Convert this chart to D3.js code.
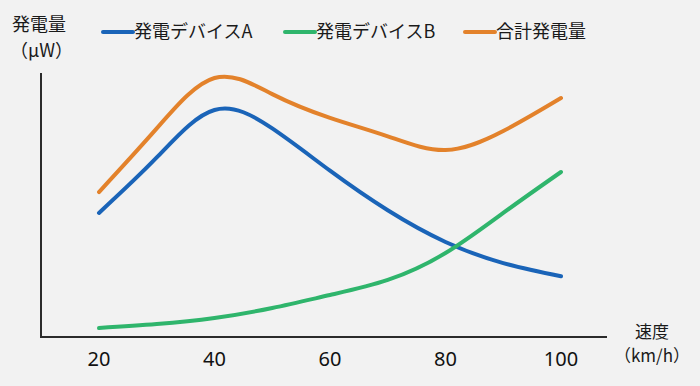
<!DOCTYPE html>
<html>
<head>
<meta charset="utf-8">
<script src="https://cdn.jsdelivr.net/npm/d3@7"></script>
<style>
  body { margin: 0; background: #f2f2f2; }
  svg { display: block; font-family: "Noto Sans CJK JP", "Noto Sans", sans-serif; }
</style>
</head>
<body>
<svg id="chart"></svg>
<script>
const width = 700;
const height = 386;

// speeds (km/h) read along the x axis
const speeds = [20, 30, 40, 50, 60, 70, 80, 90, 100];
const tickLabels = [20, 40, 60, 80, 100];

// power values (no units on the y axis)
const deviceA = [47, 68, 86, 79, 63, 48, 36, 28, 23];
const deviceB = [3.4, 4.9, 7.2, 11, 15.9, 21.6, 31.8, 47, 62.5];
const total = [54.9, 79, 98.1, 92, 83, 76, 70.8, 78, 90.5];

const seriesNames = ["発電デバイスA", "発電デバイスB", "合計発電量"];
const seriesColors = ["#1a64b8", "#2fb56c", "#e3822b"];

const svg = d3.select("#chart")
    .attr("width", width)
    .attr("height", height);

svg.append("rect")
    .attr("width", width)
    .attr("height", height)
    .attr("fill", "#f2f2f2");

const x = d3.scaleLinear().domain([20, 100]).range([99, 561]);
const y = d3.scaleLinear().domain([0, 100]).range([337, 73]);

// axes, drawn as plain lines
svg.append("line")
    .attr("x1", 41).attr("x2", 41)
    .attr("y1", y(100)).attr("y2", y(0))
    .attr("stroke", "#2b2b2b").attr("stroke-width", 2);
svg.append("line")
    .attr("x1", 40).attr("x2", 607)
    .attr("y1", y(0)).attr("y2", y(0))
    .attr("stroke", "#2b2b2b").attr("stroke-width", 2);

// tick labels
svg.selectAll(".tick")
    .data(tickLabels)
    .enter()
    .append("text")
        .attr("class", "tick")
        .attr("x", function(d){ return x(d); })
        .attr("y", 366)
        .attr("text-anchor", "middle")
        .attr("font-family", "'Noto Sans', sans-serif")
        .attr("font-size", 20)
        .attr("fill", "#111")
        .text(function(d){ return d; });

// lines
const line = d3.line()
    .x(function(d){ return x(d[0]); })
    .y(function(d){ return y(d[1]); })
    .curve(d3.curveNatural);

const series = [deviceA, deviceB, total];
series.forEach(function(vals, i){
    svg.append("path")
        .datum(speeds.map(function(s, j){ return [s, vals[j]]; }))
        .attr("d", line)
        .attr("fill", "none")
        .attr("stroke", seriesColors[i])
        .attr("stroke-width", 4)
        .attr("stroke-linecap", "round")
        .attr("stroke-linejoin", "round");
});

// y axis title
svg.append("text")
    .attr("x", 12).attr("y", 31)
    .attr("font-size", 18).attr("fill", "#1a1a1a")
    .text("発電量");
svg.append("text")
    .attr("x", 10).attr("y", 57)
    .attr("font-size", 18).attr("fill", "#1a1a1a")
    .text("（μW）");

// x axis title
svg.append("text")
    .attr("x", 652).attr("y", 338)
    .attr("text-anchor", "middle")
    .attr("font-size", 17).attr("fill", "#1a1a1a")
    .text("速度");
svg.append("text")
    .attr("x", 652).attr("y", 362)
    .attr("text-anchor", "middle")
    .attr("font-size", 17).attr("fill", "#1a1a1a")
    .text("（km/h）");

// legend
const legendX = [103, 285, 465];
seriesNames.forEach(function(name, i){
    svg.append("line")
        .attr("x1", legendX[i]).attr("x2", legendX[i] + 30)
        .attr("y1", 32).attr("y2", 32)
        .attr("stroke", seriesColors[i])
        .attr("stroke-width", 4)
        .attr("stroke-linecap", "round");
    svg.append("text")
        .attr("x", legendX[i] + 31).attr("y", 38)
        .attr("font-size", 18).attr("fill", "#1a1a1a")
        .text(name);
});
</script>
</body>
</html>
